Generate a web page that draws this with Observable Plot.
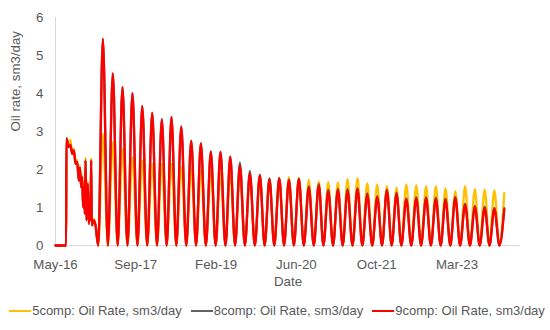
<!DOCTYPE html>
<html>
<head>
<meta charset="utf-8">
<script src="https://cdn.jsdelivr.net/npm/d3@7"></script>
<script src="https://cdn.jsdelivr.net/npm/@observablehq/plot@0.6"></script>
<style>
  body { margin: 0; background: #fff; font-family: 'Liberation Sans', Arial, sans-serif; }
  #legend { display: flex; justify-content: center; align-items: center; gap: 9px; margin-top: 13px; font-size: 13px; color: #595959; line-height: 16px; padding-left: 4px; }
  .item { display: flex; align-items: center; }
  .sw { width: 22px; height: 2px; margin-right: 1px; }
</style>
</head>
<body>
<div id="chart"></div>
<div id="legend"></div>
<script>
// Axis ticks (day index from first record) and labels
const tickDays = [0, 500, 1000, 1500, 2000, 2500];
const tickLabels = ["May-16", "Sep-17", "Feb-19", "Jun-20", "Oct-21", "Mar-23"];
const yTicks = [0, 1, 2, 3, 4, 5, 6];
const yTickLabels = ["0", "1", "2", "3", "4", "5", "6"];

const seriesNames = ["5comp: Oil Rate, sm3/day", "8comp: Oil Rate, sm3/day", "9comp: Oil Rate, sm3/day"];
const seriesColors = ["#FFC000", "#636363", "#FF0000"];

// Early, noisy production period
const noisyDays = [0, 66, 68, 83, 93, 104, 114, 125, 135, 145, 152, 160, 166, 172, 176, 183, 187, 193, 201, 208, 214, 218, 222, 226, 239, 249];
const noisy5 = [0, 0, 2.82, 2.66, 2.78, 2.45, 2.55, 2.2, 2.25, 1.75, 2.1, 1.58, 1.85, 1.05, 1.6, 0.88, 2.32, 0.7, 1.68, 0.6, 1.05, 0.7, 2.3, 0.56, 0.7, 0.55];
const noisy8 = [0, 0, 2.82, 2.59, 2.65, 2.41, 2.5, 2.15, 2.2, 1.71, 2.05, 1.53, 1.8, 1.01, 1.53, 0.83, 2.24, 0.66, 1.62, 0.57, 1.01, 0.66, 2.24, 0.53, 0.66, 0.53];
const noisy9 = [0, 0, 2.82, 2.59, 2.65, 2.41, 2.5, 2.15, 2.2, 1.71, 2.05, 1.53, 1.8, 1.01, 1.53, 0.83, 2.24, 0.66, 1.62, 0.57, 1.01, 0.66, 2.24, 0.53, 0.66, 0.53];

// Cyclic period: troughs and peaks
const troughDays = [266, 326, 387, 448, 510, 571, 632, 692, 752, 814, 875, 936, 997, 1058, 1118, 1179, 1241, 1302, 1362, 1423, 1484, 1546, 1608, 1668, 1728, 1788, 1849, 1910, 1972, 2033, 2093, 2153, 2215, 2276, 2337, 2398, 2458, 2519, 2580, 2641, 2702, 2764];
const troughRates = [0, 0, 0, 0, 0, 0, 0, 0, 0, 0, 0, 0, 0, 0, 0, 0, 0, 0, 0, 0, 0, 0, 0, 0, 0, 0, 0, 0, 0, 0, 0, 0, 0, 0, 0, 0, 0, 0, 0, 0, 0, 0];
const peakDays = [295, 357, 417, 479, 540, 602, 662, 722, 783, 845, 905, 967, 1027, 1088, 1148, 1210, 1272, 1332, 1393, 1453, 1515, 1577, 1639, 1698, 1758, 1818, 1880, 1941, 2003, 2063, 2123, 2184, 2246, 2307, 2368, 2428, 2489, 2550, 2611, 2672, 2732];
const peaks5 = [2.94, 2.72, 2.54, 2.32, 2.24, 2.15, 2.15, 2.15, 2.08, 2.02, 1.97, 1.93, 1.90, 1.92, 1.95, 1.85, 1.82, 1.74, 1.76, 1.80, 1.78, 1.73, 1.69, 1.67, 1.66, 1.75, 1.77, 1.64, 1.61, 1.56, 1.52, 1.61, 1.59, 1.56, 1.56, 1.50, 1.43, 1.56, 1.48, 1.47, 1.45];
const peaks8 = [5.44, 4.53, 4.17, 4.01, 3.67, 3.49, 3.32, 3.38, 3.13, 2.75, 2.69, 2.47, 2.46, 2.34, 2.19, 1.96, 1.86, 1.76, 1.77, 1.74, 1.76, 1.56, 1.62, 1.47, 1.49, 1.48, 1.51, 1.37, 1.30, 1.47, 1.39, 1.24, 1.27, 1.27, 1.26, 1.23, 1.28, 1.10, 1.04, 1.02, 0.99];
const peaks9 = [5.44, 4.53, 4.17, 4.01, 3.67, 3.49, 3.32, 3.38, 3.13, 2.75, 2.69, 2.47, 2.46, 2.34, 2.10, 1.89, 1.85, 1.76, 1.77, 1.72, 1.75, 1.53, 1.59, 1.44, 1.46, 1.45, 1.48, 1.34, 1.27, 1.45, 1.36, 1.21, 1.24, 1.24, 1.23, 1.20, 1.25, 1.07, 1.01, 0.99, 0.96];

// Last record
const endDay = 2794;
const end5 = 1.38;
const end8 = 0.98;
const end9 = 0.95;

function build(noisy, peaks, endRate) {
  const pts = noisyDays.map((d, i) => ({day: d, rate: noisy[i]}));
  for (let i = 0; i < troughDays.length; i++) {
    pts.push({day: troughDays[i], rate: troughRates[i]});
    if (i < peakDays.length) pts.push({day: peakDays[i], rate: peaks[i]});
  }
  pts.push({day: endDay, rate: endRate});
  return pts;
}

const data5 = build(noisy5, peaks5, end5);
const data8 = build(noisy8, peaks8, end8);
const data9 = build(noisy9, peaks9, end9);

const chart = Plot.plot({
  width: 550,
  height: 290,
  marginTop: 17,
  marginRight: 30,
  marginBottom: 45,
  marginLeft: 55,
  style: {fontFamily: "'Liberation Sans', Arial, sans-serif", fontSize: "13.3px", color: "#595959", background: "#fff"},
  x: {type: "linear", domain: [0, 2895]},
  y: {domain: [0, 6]},
  marks: [
    Plot.ruleX([0], {stroke: "#d9d9d9", strokeWidth: 1}),
    Plot.ruleY([0], {stroke: "#d9d9d9", strokeWidth: 1}),
    Plot.axisX({ticks: tickDays, tickFormat: d => tickLabels[tickDays.indexOf(d)], tickSize: 0, tickPadding: 14, label: null, fill: "#595959"}),
    Plot.axisY({ticks: yTicks, tickFormat: d => yTickLabels[yTicks.indexOf(d)], tickSize: 0, tickPadding: 12, label: null, fill: "#595959"}),
    Plot.line(data5, {x: "day", y: "rate", stroke: seriesColors[0], strokeWidth: 2.3, curve: "monotone-x"}),
    Plot.line(data8, {x: "day", y: "rate", stroke: seriesColors[1], strokeWidth: 2.3, curve: "monotone-x"}),
    Plot.line(data9, {x: "day", y: "rate", stroke: seriesColors[2], strokeWidth: 2.3, curve: "monotone-x"}),
    Plot.text(["Date"], {frameAnchor: "bottom", dy: 40, fill: "#595959", fontSize: 13.3}),
    Plot.text(["Oil rate, sm3/day"], {frameAnchor: "left", dx: -40, rotate: -90, fill: "#595959", fontSize: 13.3})
  ]
});
document.getElementById("chart").appendChild(chart);

const legend = document.getElementById("legend");
seriesNames.forEach((name, i) => {
  const item = document.createElement("div");
  item.className = "item";
  const sw = document.createElement("span");
  sw.className = "sw";
  sw.style.background = seriesColors[i];
  const label = document.createElement("span");
  label.textContent = name;
  item.appendChild(sw);
  item.appendChild(label);
  legend.appendChild(item);
});
</script>
</body>
</html>
